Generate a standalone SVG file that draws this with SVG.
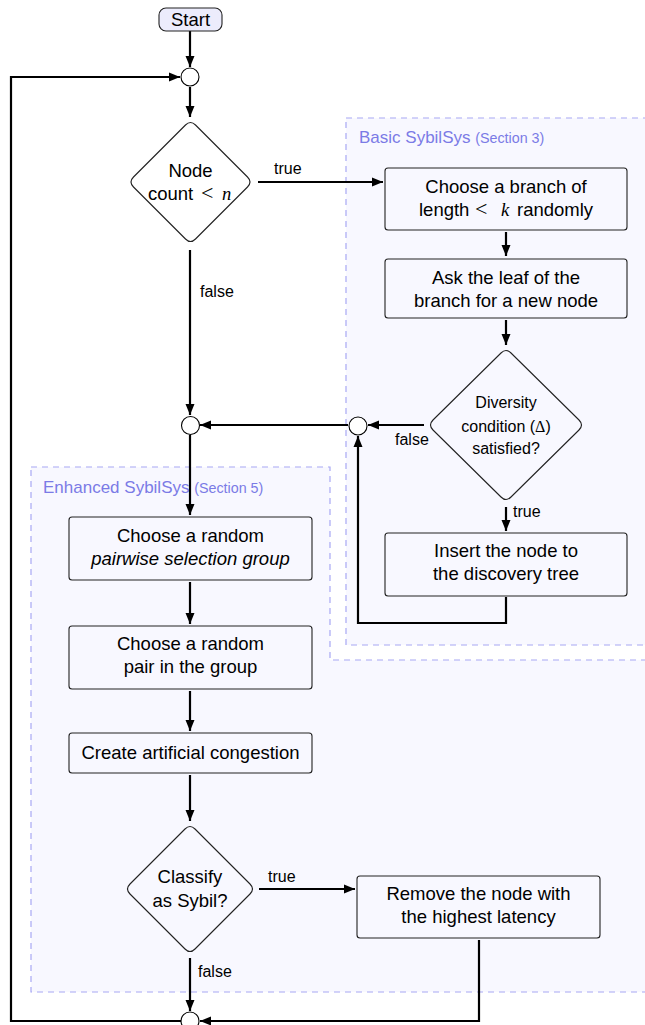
<svg xmlns="http://www.w3.org/2000/svg" width="645" height="1025" viewBox="0 0 645 1025">
<style>
text{font-family:"Liberation Sans",Arial,sans-serif;fill:#000}
.t{font-size:18.5px;text-anchor:middle}
.ts{font-size:18.5px}
.s{font-size:16px;text-anchor:middle}
.lbl{font-size:16px}
.sec{font-size:17px;fill:#7b7be6}
.sec tspan.small{font-size:14.3px}
.m{font-family:"Liberation Serif","Times New Roman",serif;font-style:italic}
.r{font-family:"Liberation Serif","Times New Roman",serif}
.lt{font-family:"Liberation Serif","Times New Roman",serif;font-size:22px}
.node{fill:none;stroke:#222;stroke-width:1.1}
.circ{fill:#fff;stroke:#000;stroke-width:1.1}
.area{fill:#f8f8ff;stroke:#a8a8f4;stroke-width:1.2;stroke-dasharray:6 5}
.c{fill:none;stroke:#000;stroke-width:2.2}
</style>
<defs>
<marker id="ah" markerUnits="userSpaceOnUse" markerWidth="12" markerHeight="10" refX="11" refY="5" orient="auto">
<path d="M0,0.5 L11,5 L0,9.5 Z" fill="#000"/>
</marker>
</defs>
<g id="areas">
<path id="enhanced-area" class="area" d="M31,467 H330 V660 H660 V992 H31 Z"/>
<path id="basic-area" class="area" d="M346,118 H660 V645 H346 Z"/>
<text class="sec" x="359" y="143">Basic SybilSys <tspan class="small">(Section 3)</tspan></text>
<text class="sec" x="43" y="493">Enhanced SybilSys <tspan class="small">(Section 5)</tspan></text>
</g>
<g id="connectors">
<path class="c" d="M190,31 V67" marker-end="url(#ah)"/>
<path class="c" d="M181,1021 H11 V77 H180" marker-end="url(#ah)"/>
<path class="c" d="M190,87 V117" marker-end="url(#ah)"/>
<path class="c" d="M258,182 H383" marker-end="url(#ah)"/>
<path class="c" d="M506,232 V256" marker-end="url(#ah)"/>
<path class="c" d="M506,320 V345" marker-end="url(#ah)"/>
<path class="c" d="M424,425 H368" marker-end="url(#ah)"/>
<path class="c" d="M348,425 H200" marker-end="url(#ah)"/>
<path class="c" d="M190,250 V415" marker-end="url(#ah)"/>
<path class="c" d="M506,507 V531" marker-end="url(#ah)"/>
<path class="c" d="M506,597 V623 H358 V436" marker-end="url(#ah)"/>
<path class="c" d="M190,435 V515" marker-end="url(#ah)"/>
<path class="c" d="M190,582 V624" marker-end="url(#ah)"/>
<path class="c" d="M190,691 V731" marker-end="url(#ah)"/>
<path class="c" d="M190,775 V821" marker-end="url(#ah)"/>
<path class="c" d="M259,889 H355" marker-end="url(#ah)"/>
<path class="c" d="M190,958 V1011" marker-end="url(#ah)"/>
<path class="c" d="M479,940 V1021 H200" marker-end="url(#ah)"/>
<text class="lbl" x="274" y="174">true</text>
<text class="lbl" x="200" y="297">false</text>
<text class="lbl" x="395" y="445">false</text>
<text class="lbl" x="513" y="517">true</text>
<text class="lbl" x="268" y="882">true</text>
<text class="lbl" x="198" y="977">false</text>
</g>
<g id="start">
<rect x="159" y="8" width="63" height="23" rx="7" fill="#ececfc" stroke="#222" stroke-width="1.1"/>
<text class="t" x="190.5" y="26">Start</text>
</g>
<g id="junction-top"><circle class="circ" cx="190" cy="77" r="9"/></g>
<g id="decision-count">
<path class="node" d="M195.5,125 L247.5,177 Q252.5,182 247.5,187 L195.5,239 Q190.5,244 185.5,239 L133.5,187 Q128.5,182 133.5,177 L185.5,125 Q190.5,120 195.5,125 Z"/>
<text class="t" x="190.5" y="177">Node</text>
<text class="ts" y="200"><tspan x="148">count</tspan><tspan class="lt" x="201">&lt;</tspan><tspan class="m" x="222">n</tspan></text>
</g>
<g id="choose-branch">
<rect class="node" x="385" y="168" width="242" height="62" rx="3"/>
<text class="t" x="506" y="193">Choose a branch of</text>
<text class="ts" y="216"><tspan x="419">length</tspan><tspan class="lt" x="475">&lt;</tspan><tspan class="m" x="501">k</tspan><tspan x="517">randomly</tspan></text>
</g>
<g id="ask-leaf">
<rect class="node" x="385" y="259" width="242" height="59" rx="3"/>
<text class="t" x="506" y="284">Ask the leaf of the</text>
<text class="t" x="506" y="307">branch for a new node</text>
</g>
<g id="decision-diversity">
<path class="node" d="M511,353 L579,420 Q584,425 579,430 L511,497 Q506,502 501,497 L433,430 Q428,425 433,420 L501,353 Q506,348 511,353 Z"/>
<text class="s" x="506" y="408">Diversity</text>
<text class="s" x="506" y="432">condition  (<tspan class="r">Δ</tspan>)</text>
<text class="s" x="506" y="454">satisfied?</text>
</g>
<g id="junction-basic"><circle class="circ" cx="358" cy="426" r="9"/></g>
<g id="junction-mid"><circle class="circ" cx="190.5" cy="425.5" r="9"/></g>
<g id="insert-node">
<rect class="node" x="385" y="533" width="242" height="63" rx="3"/>
<text class="t" x="506" y="557">Insert the node to</text>
<text class="t" x="506" y="580">the discovery tree</text>
</g>
<g id="choose-group">
<rect class="node" x="69" y="517" width="243" height="63" rx="3"/>
<text class="t" x="190.5" y="542">Choose a random</text>
<text class="t" x="190.5" y="565" font-style="italic">pairwise selection group</text>
</g>
<g id="choose-pair">
<rect class="node" x="69" y="626" width="243" height="63" rx="3"/>
<text class="t" x="190.5" y="650">Choose a random</text>
<text class="t" x="190.5" y="673">pair in the group</text>
</g>
<g id="congestion">
<rect class="node" x="69" y="733" width="243" height="40" rx="3"/>
<text class="t" x="190.5" y="759">Create artificial congestion</text>
</g>
<g id="decision-sybil">
<path class="node" d="M195,829 L250,884 Q255,889 250,894 L195,949 Q190,954 185,949 L130,894 Q125,889 130,884 L185,829 Q190,824 195,829 Z"/>
<text class="t" x="190" y="883">Classify</text>
<text class="t" x="190" y="907">as Sybil?</text>
</g>
<g id="remove-node">
<rect class="node" x="357" y="876" width="243" height="62" rx="3"/>
<text class="t" x="478.5" y="900">Remove the node with</text>
<text class="t" x="478.5" y="923">the highest latency</text>
</g>
<g id="junction-bottom"><circle class="circ" cx="190" cy="1021" r="9"/></g>
</svg>
